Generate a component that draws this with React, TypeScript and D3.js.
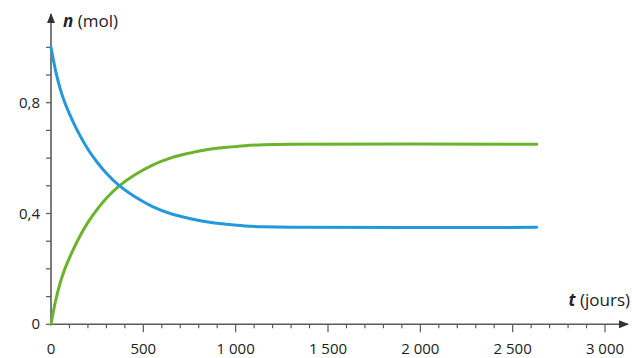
import * as d3 from "d3";
import { useEffect, useRef } from "react";

// values (t in days, n in mol)
const tBlue = [0, 25, 50, 75, 100, 150, 200, 250, 300, 365, 450, 550, 650, 750, 850, 950, 1050, 1150, 1300, 2630];
const nBlue = [1.0, 0.915, 0.85, 0.8, 0.76, 0.69, 0.632, 0.585, 0.545, 0.503, 0.462, 0.425, 0.399, 0.382, 0.369, 0.361, 0.355, 0.352, 0.35, 0.35];
const tGreen = [0, 25, 50, 75, 100, 150, 200, 250, 300, 365, 450, 550, 650, 750, 850, 950, 1050, 1150, 1300, 2630];
const nGreen = [0, 0.085, 0.15, 0.2, 0.24, 0.31, 0.368, 0.415, 0.455, 0.497, 0.538, 0.575, 0.601, 0.618, 0.631, 0.639, 0.645, 0.648, 0.65, 0.65];

const xMajor = [0, 500, 1000, 1500, 2000, 2500, 3000];
const xLabels = ["0", "500", "1 000", "1 500", "2 000", "2 500", "3 000"];
const yMajor = [0, 0.4, 0.8];
const yLabels = ["0", "0,4", "0,8"];

export default function App() {
  const svgRef = useRef(null);

  const W = 632;
  const H = 358;

  useEffect(() => {
    const svg = d3.select(svgRef.current);
    svg.selectAll("*").remove();

    const x = d3.scaleLinear().domain([0, 3000]).range([51, 605]);
    const y = d3.scaleLinear().domain([0, 1]).range([324.3, 47.3]);
    const axisColor = "#5a5a5a";
    const font = "'Open Sans', 'Noto Sans', sans-serif";

    const defs = svg.append("defs");
    defs.append("marker")
      .attr("id", "arrow")
      .attr("viewBox", "0 0 10 10")
      .attr("refX", 9)
      .attr("refY", 5)
      .attr("markerWidth", 10)
      .attr("markerHeight", 10)
      .attr("markerUnits", "userSpaceOnUse")
      .attr("orient", "auto")
      .append("path")
      .attr("d", "M0,1 L10,5 L0,9 Z")
      .attr("fill", "#333");

    // axes
    svg.append("line")
      .attr("x1", x(0)).attr("x2", 628)
      .attr("y1", y(0)).attr("y2", y(0))
      .attr("stroke", axisColor).attr("stroke-width", 1.6)
      .attr("marker-end", "url(#arrow)");
    svg.append("line")
      .attr("x1", x(0)).attr("x2", x(0))
      .attr("y1", y(0) + 1).attr("y2", 14)
      .attr("stroke", axisColor).attr("stroke-width", 1.6)
      .attr("marker-end", "url(#arrow)");

    // x ticks
    const xMinor = d3.range(100, 3001, 100);
    svg.selectAll(".xt")
      .data(xMinor)
      .enter()
      .append("line")
      .attr("x1", d => x(d)).attr("x2", d => x(d))
      .attr("y1", y(0))
      .attr("y2", d => y(0) + (d % 500 === 0 ? 8 : 4))
      .attr("stroke", axisColor).attr("stroke-width", 1.2);

    svg.selectAll(".xl")
      .data(xMajor)
      .enter()
      .append("text")
      .attr("x", d => x(d))
      .attr("y", 354)
      .attr("text-anchor", "middle")
      .attr("font-family", font)
      .attr("font-size", 15)
      .attr("fill", "#222")
      .text((d, i) => xLabels[i]);

    // y ticks
    const yMinor = d3.range(0, 11).map(i => i / 10);
    svg.selectAll(".yt")
      .data(yMinor)
      .enter()
      .append("line")
      .attr("x1", x(0) - 5).attr("x2", x(0))
      .attr("y1", d => y(d)).attr("y2", d => y(d))
      .attr("stroke", axisColor).attr("stroke-width", 1.2);

    svg.selectAll(".yl")
      .data(yMajor)
      .enter()
      .append("text")
      .attr("x", 40)
      .attr("y", d => y(d) + 5)
      .attr("text-anchor", "end")
      .attr("font-family", font)
      .attr("font-size", 15)
      .attr("fill", "#222")
      .text((d, i) => yLabels[i]);

    // axis titles
    const ny = svg.append("text")
      .attr("x", 63).attr("y", 27)
      .attr("font-family", font)
      .attr("font-size", 17)
      .attr("fill", "#222");
    ny.append("tspan").attr("font-weight", "bold").attr("font-style", "italic").text("n");
    ny.append("tspan").text(" (mol)");

    const tx = svg.append("text")
      .attr("x", 630).attr("y", 306)
      .attr("text-anchor", "end")
      .attr("font-family", font)
      .attr("font-size", 17)
      .attr("fill", "#222");
    tx.append("tspan").attr("font-weight", "bold").attr("font-style", "italic").text("t");
    tx.append("tspan").text(" (jours)");

    // curves
    const line = d3.line()
      .x(d => x(d[0]))
      .y(d => y(d[1]))
      .curve(d3.curveCatmullRom.alpha(0.5));

    const blue = tBlue.map((t, i) => [t, nBlue[i]]);
    const green = tGreen.map((t, i) => [t, nGreen[i]]);

    svg.append("path")
      .attr("d", line(green))
      .attr("fill", "none")
      .attr("stroke", "#6cb32c")
      .attr("stroke-width", 3)
      .attr("stroke-linecap", "round");

    svg.append("path")
      .attr("d", line(blue))
      .attr("fill", "none")
      .attr("stroke", "#2399dc")
      .attr("stroke-width", 3)
      .attr("stroke-linecap", "round");
  }, []);

  return (
    <svg
      ref={svgRef}
      width={W}
      height={H}
      style={{ position: "absolute", left: 0, top: 0, background: "#fff" }}
    ></svg>
  );
}
